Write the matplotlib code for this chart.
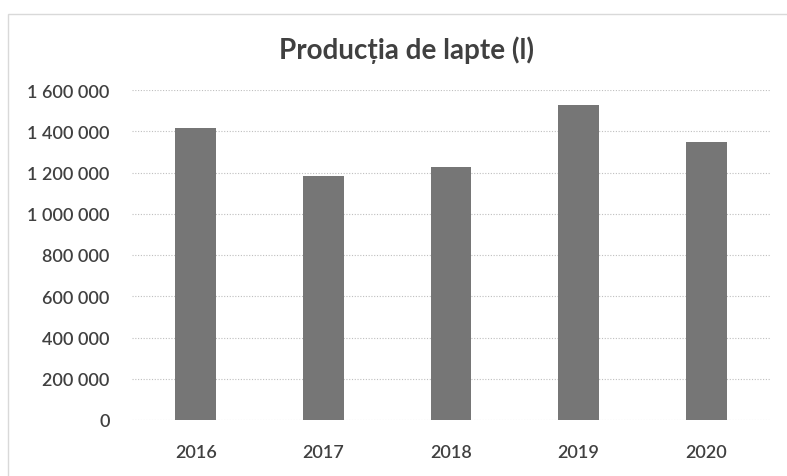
import matplotlib.pyplot as plt
from matplotlib.patches import Rectangle
from matplotlib.ticker import FuncFormatter

# Data
years = ['2016', '2017', '2018', '2019', '2020']
milk_litres = [1415000, 1185000, 1225000, 1525000, 1350000]
y_ticks = [0, 200000, 400000, 600000, 800000, 1000000, 1200000, 1400000, 1600000]

plt.rcParams['font.family'] = ['Lato', 'DejaVu Sans']

W, H = 787, 477
fig = plt.figure(figsize=(W / 100, H / 100), dpi=100)

# light chart border
fig.patches.append(Rectangle((8 / W, -0.05), 1.1, (H - 15) / H + 0.05, transform=fig.transFigure,
                             fill=False, edgecolor='#d9d9d9', linewidth=1.0))

ax = fig.add_axes([132 / W, 1 - 421 / H, (770 - 132) / W, (421 - 91) / H])

ax.bar(range(len(years)), milk_litres, width=0.32, color='#767676', zorder=3)

ax.set_xlim(-0.5, len(years) - 0.5)
ax.set_ylim(0, 1600000)
ax.set_xticks(range(len(years)))
ax.set_xticklabels(years)
ax.set_yticks(y_ticks)
ax.yaxis.set_major_formatter(FuncFormatter(lambda v, p: f"{v:,.0f}".replace(",", " ")))

ax.grid(axis='y', linestyle=(0, (1, 1.5)), color='#bfbfbf', linewidth=0.8, zorder=0)
for s in ax.spines.values():
    s.set_visible(False)
ax.tick_params(axis='both', length=0, labelsize=13, colors='#404040')
ax.tick_params(axis='y', pad=16)
ax.tick_params(axis='x', pad=17)
for lab in ax.get_xticklabels() + ax.get_yticklabels():
    lab.set_fontweight('semibold')

fig.text(406 / W, 1 - 50 / H, 'Producția de lapte (l)', ha='center', va='center',
         fontsize=20, fontweight='bold', color='#404040')

fig.savefig('out.png', dpi=100)
